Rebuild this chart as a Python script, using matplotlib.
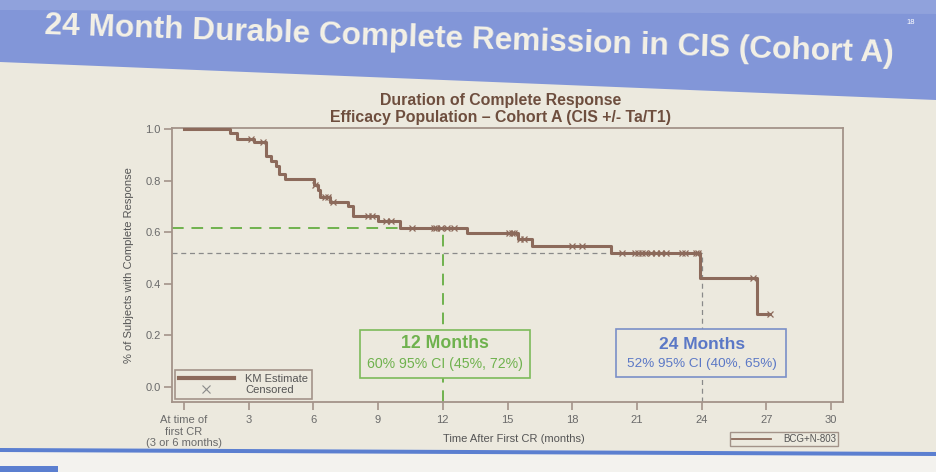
import numpy as np
import matplotlib
matplotlib.use("Agg")
import matplotlib.pyplot as plt
from matplotlib.patches import Polygon, Rectangle
from matplotlib.lines import Line2D

plt.rcParams['font.family'] = ['Liberation Sans', 'DejaVu Sans']

# KM estimate: step times (months) and survival after each step
step_t = [2.16, 2.48, 3.26, 3.81, 4.03, 4.29, 4.41, 4.71, 6.03, 6.2, 6.32, 6.75,
          7.6, 7.86, 9.02, 10.0, 13.1, 15.48, 16.15, 19.8, 23.92, 26.57]
step_s = [0.983, 0.962, 0.951, 0.896, 0.878, 0.858, 0.824, 0.807, 0.785, 0.762, 0.737, 0.716,
          0.70, 0.662, 0.643, 0.617, 0.597, 0.575, 0.548, 0.519, 0.422, 0.284]
end_t = 27.17
censor_t = [3.12, 3.67, 6.1, 6.55, 6.68, 6.93, 8.53, 8.73, 9.39, 9.58, 10.57, 11.6, 11.67,
            11.9, 12.2, 12.5, 15.05, 15.2, 15.3, 15.6, 15.75, 18.0, 18.47, 20.33, 20.9,
            21.06, 21.23, 21.39, 21.63, 21.87, 22.11, 22.35, 23.08, 23.24, 23.72, 23.85,
            26.4, 27.17]

xticks = [0, 3, 6, 9, 12, 15, 18, 21, 24, 27, 30]
xticklabels = ["At time of\nfirst CR\n(3 or 6 months)", "3", "6", "9", "12", "15", "18",
               "21", "24", "27", "30"]
yticks = [0.0, 0.2, 0.4, 0.6, 0.8, 1.0]

m12_val = 0.617
m24_val = 0.519
m12_text = ["12 Months", "60% 95% CI (45%, 72%)"]
m24_text = ["24 Months", "52% 95% CI (40%, 65%)"]

brown = '#8c6a5b'
green = '#6fb24e'
blue = '#5b78c6'
bgc = '#ece9de'
spine = '#a39389'

fig = plt.figure(figsize=(9.36, 4.72), dpi=100)
fig.patch.set_facecolor(bgc)

# slide background
bg = fig.add_axes([0, 0, 1, 1])
bg.set_xlim(0, 936)
bg.set_ylim(472, 0)
bg.axis('off')
bg.add_patch(Polygon([(0, 0), (936, 0), (936, 100), (0, 62)], closed=True,
                     facecolor='#8296d8', edgecolor='none'))
bg.add_patch(Polygon([(0, 0), (936, 0), (936, 14), (0, 10)], closed=True,
                     facecolor='#90a2dc', edgecolor='none'))
bg.add_patch(Polygon([(0, 448), (936, 452), (936, 472), (0, 472)], closed=True,
                     facecolor='#f3f2ee', edgecolor='none'))
bg.add_patch(Polygon([(0, 448), (936, 452), (936, 456), (0, 452)], closed=True,
                     facecolor='#5b7fd0', edgecolor='none'))
bg.add_patch(Rectangle((0, 466), 58, 6, facecolor='#5b7fd0', edgecolor='none'))
bg.text(469, 40, "24 Month Durable Complete Remission in CIS (Cohort A)", color='#f4f1e6',
        fontsize=22.8, fontweight='bold', ha='center', va='center', rotation=-1.9)
bg.text(911, 22, "18", color='white', fontsize=5.5, ha='center', va='center')

ax = fig.add_axes([172 / 936, 1 - 402 / 472, (843 - 172) / 936, (402 - 128) / 472])
ax.set_facecolor('none')

times = [0] + step_t + [end_t]
surv = [1.0] + step_s + [step_s[-1]]
ax.step(times, surv, where='post', color=brown, lw=2.2, zorder=4)

idx = np.searchsorted(times, censor_t, side='right') - 1
cens_s = np.array(surv)[idx]
ax.plot(censor_t, cens_s, ls='none', marker='x', ms=4, mew=0.9, color=brown, zorder=5)

ax.set_xlim(-0.55, 30.55)
ax.set_ylim(-0.058, 1.004)

# reference lines
ax.plot([-0.55, 12], [m12_val, m12_val], color=green, lw=1.4, ls=(0, (6, 4)), zorder=2)
ax.plot([12, 12], [-0.058, m12_val], color=green, lw=1.4, ls=(0, (6, 4)), zorder=2)
ax.plot([-0.55, 24], [m24_val, m24_val], color='#8a8a8a', lw=0.9, ls=(0, (4, 3)), zorder=2)
ax.plot([24, 24], [-0.058, m24_val], color='#8a8a8a', lw=0.9, ls=(0, (4, 3)), zorder=2)

# annotation boxes
ax.add_patch(Rectangle((8.15, 0.035), 16.06 - 8.15, 0.223 - 0.035, facecolor=bgc,
                       edgecolor='#7dbb5a', lw=1.2, zorder=6))
ax.text(12.1, 0.168, m12_text[0], color=green, fontsize=12.8, fontweight='bold',
        ha='center', va='center', zorder=7)
ax.text(12.1, 0.09, m12_text[1], color=green, fontsize=10.2, ha='center', va='center', zorder=7)
ax.add_patch(Rectangle((20.05, 0.04), 27.93 - 20.05, 0.226 - 0.04, facecolor=bgc,
                       edgecolor='#7b8fc8', lw=1.2, zorder=6))
ax.text(24.0, 0.165, m24_text[0], color=blue, fontsize=12.5, fontweight='bold',
        ha='center', va='center', zorder=7)
ax.text(24.0, 0.09, m24_text[1], color=blue, fontsize=9.7, ha='center', va='center', zorder=7)

for s in ax.spines.values():
    s.set_color(spine)
    s.set_linewidth(1.3)

ax.set_xticks(xticks)
ax.set_xticklabels(xticklabels)
ax.set_yticks(yticks)
ax.set_yticklabels([f"{v:.1f}" for v in yticks])
ax.tick_params(axis='both', colors=spine, labelcolor='#6a6a6a', labelsize=8, length=6, width=1.2)
ax.tick_params(axis='y', pad=2)
ax.set_xlabel("Time After First CR (months)", fontsize=8, color='#555555')
ax.xaxis.set_label_coords(0.51, -0.115)
ax.set_ylabel("% of Subjects with Complete Response", fontsize=8, color='#555555', labelpad=8)

fig.text(501 / 936, 1 - 109 / 472,
         "Duration of Complete Response\nEfficacy Population \u2013 Cohort A (CIS +/- Ta/T1)",
         fontsize=11.4, fontweight='bold', color='#6e4e3e', ha='center', va='center',
         linespacing=1.2)

h1 = Line2D([], [], color=brown, lw=3)
h2 = Line2D([], [], ls='none', marker='x', ms=6, mew=0.8, color='#8a8a8a')
leg = ax.legend([h1, h2], ["KM Estimate", "Censored"], loc='lower left', fontsize=8,
                frameon=True, fancybox=False, edgecolor=spine, facecolor=bgc, framealpha=1,
                handlelength=5, borderaxespad=0.3, labelspacing=0.15, borderpad=0.3,
                handletextpad=1.0)
leg.get_frame().set_linewidth(1.2)
for t in leg.get_texts():
    t.set_color('#555555')

leg2 = fig.legend([Line2D([], [], color=brown, lw=1.3)], ["BCG+N-803"], loc='center',
                  bbox_to_anchor=(784 / 936, 1 - 439 / 472), fontsize=7, frameon=True,
                  fancybox=False, edgecolor=spine, facecolor=bgc, framealpha=1,
                  handlelength=4, borderpad=0.25, handletextpad=1.2)
leg2.get_frame().set_linewidth(1.0)
leg2.get_texts()[0].set_color('#555555')

fig.savefig("out.png", dpi=100, facecolor=fig.get_facecolor())
